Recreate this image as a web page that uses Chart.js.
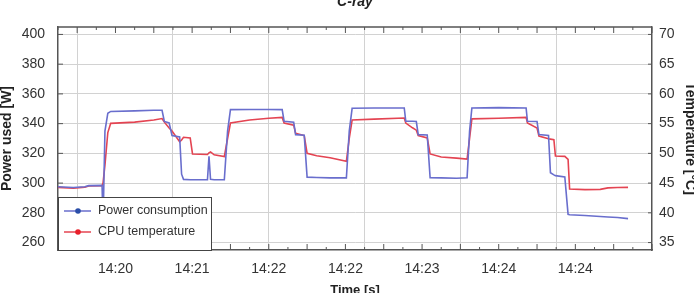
<!DOCTYPE html>
<html>
<head>
<meta charset="utf-8">
<script src="https://cdn.jsdelivr.net/npm/chart.js@4.4.1/dist/chart.umd.min.js"></script>
<style>
  body { margin: 0; background: #fff; }
  #wrap { width: 694px; height: 293px; overflow: hidden; position: relative; }
  #chart { position: absolute; left: 0; top: -6px; }
</style>
</head>
<body>
<div id="wrap"><canvas id="chart" width="697" height="303"></canvas></div>
<script>
// time in seconds from start of the plotted range
var timeSec = [0, 8, 14, 16, 23, 23.5, 24.5, 26, 27.5, 40, 50, 54.3, 55.5, 58, 59.5, 63.5, 64.5, 65.5, 69, 70.2,
    78, 78.8, 79.6, 81.5, 86.8, 88.5, 90, 100, 110, 117, 118, 123, 124, 128.5, 130, 135, 142, 150.5, 152, 153.5,
    165, 180.7, 181.5, 185, 187, 188, 192.7, 194.2, 200, 208, 213.5, 214.8, 216, 230, 244.3, 245, 250, 251, 256, 257,
    258.8, 259.6, 264.5, 266.2, 267, 275, 283, 287, 292, 297.5];

// power consumption [W]
var power = [297.5, 297.0, 297.5, 298.3, 298.5, 272, 335, 347, 348.2, 348.6, 349, 349, 341.5, 340.5, 332, 331, 306, 302.5, 302.3, 302.3,
    302.3, 318, 302.6, 302.3, 302.3, 335, 349.4, 349.5, 349.5, 349.4, 341.6, 341, 332.6, 332.2, 304, 303.8, 303.5, 303.5, 335, 350.3,
    350.5, 350.5, 341.6, 341.6, 341.4, 332.6, 332.4, 303.6, 303.5, 303.3, 303.6, 335, 350.5, 350.8, 350.5, 341.6, 341.4, 332.6, 332, 307,
    305.5, 305, 304.2, 279, 278.7, 278.2, 277.5, 277.2, 276.9, 276.1];

// CPU temperature [°C]
var temperature = [44.25, 44.15, 44.3, 44.5, 44.58, 45, 48, 53.5, 55.05, 55.25, 55.6, 55.85, 55.25, 54.25, 53.75, 51.95, 52.25, 52.7, 52.6, 49.9,
    49.8, 50.1, 50.25, 49.75, 49.45, 52.5, 55.1, 55.6, 55.9, 56.05, 55.1, 54.75, 53.4, 53, 50, 49.6, 49.25, 48.65, 52.5, 55.6,
    55.75, 55.95, 55.1, 54.3, 53.9, 53, 52.6, 49.9, 49.4, 49.2, 49.05, 52.5, 55.8, 55.9, 56.05, 55.1, 54.25, 52.9, 52.45, 52.4,
    52.3, 49.55, 49.5, 49, 44, 43.9, 43.95, 44.2, 44.25, 44.28];

var powerTicks = [260, 280, 300, 320, 340, 360, 380, 400];
var tempTicks = [35, 40, 45, 50, 55, 60, 65, 70];
var xLabelTimes = [30, 70, 110, 150, 190, 230, 270];
var xLabels = ['14:20', '14:21', '14:22', '14:22', '14:23', '14:24', '14:24'];
var xGridTimes = [10, 60, 110, 160, 210, 260];

var chartTitle = 'C-ray';
var FONT = '"Liberation Sans", Arial, sans-serif';

var framePlugin = {
    id: 'frame',
    afterDatasetsDraw: function (chart) {
        var ctx = chart.ctx, a = chart.chartArea, s = chart.scales;
        ctx.save();
        // top border
        ctx.strokeStyle = '#555';
        ctx.lineWidth = 1.5;
        ctx.beginPath();
        ctx.moveTo(a.left, a.top);
        ctx.lineTo(a.right, a.top);
        ctx.stroke();
        // inward tick marks
        ctx.lineWidth = 1;
        ctx.beginPath();
        s.x.ticks.forEach(function (t) {
            var px = s.x.getPixelForValue(t.value);
            var len = (t.value / 10) % 2 ? 6 : 3;
            ctx.moveTo(px, a.top);
            ctx.lineTo(px, a.top + len);
            ctx.moveTo(px, a.bottom);
            ctx.lineTo(px, a.bottom - len);
        });
        s.y.ticks.forEach(function (t) {
            var py = s.y.getPixelForValue(t.value);
            ctx.moveTo(a.left, py);
            ctx.lineTo(a.left + 5, py);
        });
        s.yT.ticks.forEach(function (t) {
            var py = s.yT.getPixelForValue(t.value);
            ctx.moveTo(a.right, py);
            ctx.lineTo(a.right - 4, py);
        });
        ctx.stroke();

        // legend box in lower left corner
        var bx = a.left, by = a.bottom - 53, bw = 153, bh = 53;
        ctx.fillStyle = '#fff';
        ctx.fillRect(bx, by, bw, bh);
        ctx.strokeStyle = '#444';
        ctx.lineWidth = 1;
        ctx.strokeRect(bx + 0.5, by + 0.5, bw, bh);
        ctx.font = '12.5px ' + FONT;
        ctx.textBaseline = 'middle';
        ctx.textAlign = 'left';
        chart.data.datasets.forEach(function (ds, i) {
            var y = by + 14 + i * 21;
            ctx.strokeStyle = ds.borderColor;
            ctx.lineWidth = 1.5;
            ctx.beginPath();
            ctx.moveTo(bx + 6, y);
            ctx.lineTo(bx + 33, y);
            ctx.stroke();
            ctx.fillStyle = ds.pointBackgroundColor;
            ctx.beginPath();
            ctx.arc(bx + 20, y, 2.8, 0, Math.PI * 2);
            ctx.fill();
            ctx.fillStyle = '#333';
            ctx.fillText(ds.label, bx + 40, y);
        });
        ctx.restore();
    },
    afterDraw: function (chart) {
        var ctx = chart.ctx, a = chart.chartArea;
        ctx.save();
        ctx.font = 'italic bold 14px ' + FONT;
        ctx.fillStyle = '#222';
        ctx.textAlign = 'center';
        ctx.textBaseline = 'alphabetic';
        ctx.fillText(chartTitle, (a.left + a.right) / 2, 12);
        ctx.restore();
    }
};

var ctx = document.getElementById('chart').getContext('2d');
new Chart(ctx, {
    type: 'line',
    data: {
        datasets: [{
            label: 'Power consumption',
            data: timeSec.map(function (t, i) { return { x: t, y: power[i] }; }),
            borderColor: 'rgb(105, 110, 205)',
            pointBackgroundColor: '#2a4ea8',
            borderWidth: 1.6,
            pointRadius: 0,
            yAxisID: 'y'
        }, {
            label: 'CPU temperature',
            data: timeSec.map(function (t, i) { return { x: t, y: temperature[i] }; }),
            borderColor: 'rgb(228, 68, 82)',
            pointBackgroundColor: '#e8202a',
            borderWidth: 1.6,
            pointRadius: 0,
            yAxisID: 'yT'
        }]
    },
    options: {
        responsive: false,
        animation: false,
        devicePixelRatio: 1,
        layout: { padding: { top: 33 } },
        plugins: {
            legend: { display: false },
            tooltip: { enabled: false }
        },
        scales: {
            x: {
                type: 'linear',
                min: 0,
                max: 310,
                ticks: {
                    stepSize: 10,
                    autoSkip: false,
                    maxRotation: 0,
                    padding: 11,
                    color: '#333',
                    font: { family: FONT, size: 14 },
                    callback: function (v) {
                        var i = xLabelTimes.indexOf(v);
                        return i >= 0 ? xLabels[i] : '';
                    }
                },
                grid: {
                    drawTicks: false,
                    color: function (c) {
                        return c.tick && xGridTimes.indexOf(c.tick.value) >= 0 ? '#d2d2d2' : 'rgba(0,0,0,0)';
                    }
                },
                border: { color: '#555', width: 1.5 },
                title: { display: true, text: 'Time [s]', color: '#222', padding: 0,
                    font: { family: FONT, size: 13, weight: 'bold', lineHeight: 1 } },
                afterFit: function (s) { s.height = 47; }
            },
            y: {
                position: 'left',
                min: 255,
                max: 405,
                afterBuildTicks: function (s) { s.ticks = powerTicks.map(function (v) { return { value: v }; }); },
                ticks: { padding: 13, color: '#333', font: { family: FONT, size: 14 } },
                grid: { drawTicks: false, color: '#d2d2d2' },
                border: { color: '#555', width: 1.5 },
                title: { display: true, text: 'Power used [W]', color: '#222', padding: 0,
                    font: { family: FONT, size: 14, weight: 'bold', lineHeight: 1 } },
                afterFit: function (s) { s.width = 58; }
            },
            yT: {
                position: 'right',
                min: 33.75,
                max: 71.25,
                afterBuildTicks: function (s) { s.ticks = tempTicks.map(function (v) { return { value: v }; }); },
                ticks: { padding: 7, color: '#333', font: { family: FONT, size: 14 } },
                grid: { drawOnChartArea: false, drawTicks: false },
                border: { color: '#555', width: 1.5 },
                title: { display: true, text: 'Temperature [°C]', color: '#222', padding: 0,
                    font: { family: FONT, size: 14, weight: 'bold', lineHeight: 1 } },
                afterFit: function (s) { s.width = 45; }
            }
        }
    },
    plugins: [framePlugin]
});
</script>
</body>
</html>
